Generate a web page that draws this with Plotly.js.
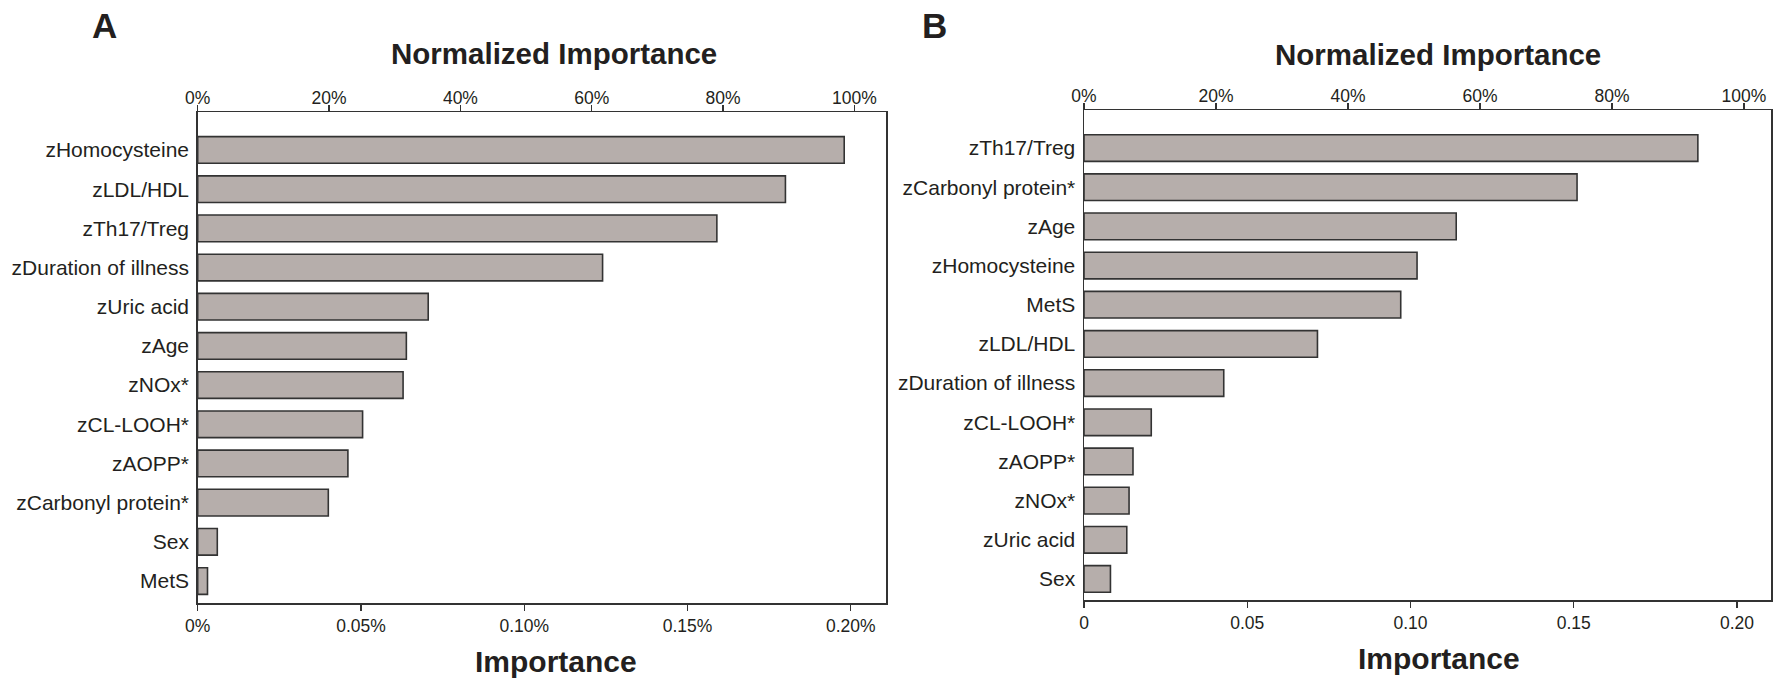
<!DOCTYPE html>
<html>
<head>
<meta charset="utf-8">
<script src="https://cdn.plot.ly/plotly-3.0.1.min.js"></script>
<style>html,body{margin:0;padding:0;background:#fff;}#chart{width:1773px;height:678px;}</style>
</head>
<body>
<div id="chart"></div>
<script>
// Panel A
const catsA = ["zHomocysteine","zLDL/HDL","zTh17/Treg","zDuration of illness","zUric acid","zAge","zNOx*","zCL-LOOH*","zAOPP*","zCarbonyl protein*","Sex","MetS"];
const valsA = [0.198,0.180,0.159,0.124,0.0706,0.0639,0.0629,0.0505,0.046,0.040,0.006,0.003];
const tickValsA = [0,0.05,0.10,0.15,0.20];
const tickTextA = ["0%","0.05%","0.10%","0.15%","0.20%"];
// Panel B
const catsB = ["zTh17/Treg","zCarbonyl protein*","zAge","zHomocysteine","MetS","zLDL/HDL","zDuration of illness","zCL-LOOH*","zAOPP*","zNOx*","zUric acid","Sex"];
const valsB = [0.188,0.151,0.114,0.102,0.097,0.0715,0.0428,0.0206,0.015,0.0138,0.0131,0.0081];
const tickValsB = [0,0.05,0.10,0.15,0.20];
const tickTextB = ["0","0.05","0.10","0.15","0.20"];
// Normalized importance (top) axis ticks
const normTicks = [0,20,40,60,80,100];
const normText = ["0%","20%","40%","60%","80%","100%"];

const FONT = "Liberation Sans, Arial, Helvetica, sans-serif";
const TXT = "#231f20";
const LINE = "#333333";
const barFill = "#b6aeab";

const traces = [
  {type:"bar", orientation:"h", y:catsA, x:valsA, xaxis:"x", yaxis:"y", width:0.68,
   marker:{color:barFill, line:{color:LINE, width:1.6}}, hoverinfo:"x+y", showlegend:false},
  {type:"bar", orientation:"h", y:catsB, x:valsB, xaxis:"x3", yaxis:"y2", width:0.68,
   marker:{color:barFill, line:{color:LINE, width:1.6}}, hoverinfo:"x+y", showlegend:false},
  // invisible carriers so the top (normalized) axes are drawn
  {type:"scatter", mode:"markers", x:[normTicks[0], normTicks[normTicks.length-1]], y:[catsA[0], catsA[0]],
   xaxis:"x2", yaxis:"y", marker:{opacity:0}, hoverinfo:"skip", showlegend:false},
  {type:"scatter", mode:"markers", x:[normTicks[0], normTicks[normTicks.length-1]], y:[catsB[0], catsB[0]],
   xaxis:"x4", yaxis:"y2", marker:{opacity:0}, hoverinfo:"skip", showlegend:false}
];

const xb = {showline:true, linecolor:LINE, linewidth:1.5, ticks:"outside", ticklen:6, tickcolor:LINE, tickwidth:1.3,
  showgrid:false, zeroline:false, tickfont:{family:FONT, size:17.5, color:TXT}, fixedrange:true};

const layout = {
  width:1773, height:678,
  margin:{l:0,r:0,t:0,b:0},
  paper_bgcolor:"#fff", plot_bgcolor:"#fff",
  font:{family:FONT, color:TXT},
  showlegend:false,
  xaxis: Object.assign({}, xb, {domain:[197.7/1773, 886/1773], anchor:"y", range:[0,0.2108],
    tickmode:"array", tickvals:tickValsA, ticktext:tickTextA}),
  xaxis2: Object.assign({}, xb, {domain:[197.7/1773, 886/1773], anchor:"y", overlaying:"x", side:"top", range:[0,104.8],
    tickmode:"array", tickvals:normTicks, ticktext:normText, ticklabelstandoff:-6}),
  yaxis: {domain:[(678-603.3)/678, (678-112.3)/678], anchor:"x", type:"category",
    categoryorder:"array", categoryarray:catsA, range:[11.569,-0.962],
    showline:true, mirror:true, linecolor:LINE, linewidth:1.5, ticks:"", showgrid:false, zeroline:false,
    tickfont:{family:FONT, size:21, color:TXT}, ticklabelstandoff:3, fixedrange:true},
  xaxis3: Object.assign({}, xb, {domain:[1084/1773, 1771/1773], anchor:"y2", range:[0,0.2104],
    tickmode:"array", tickvals:tickValsB, ticktext:tickTextB}),
  xaxis4: Object.assign({}, xb, {domain:[1084/1773, 1771/1773], anchor:"y2", overlaying:"x3", side:"top", range:[0,104.1],
    tickmode:"array", tickvals:normTicks, ticktext:normText, ticklabelstandoff:-6}),
  yaxis2: {domain:[(678-600.3)/678, (678-110)/678], anchor:"x3", type:"category",
    categoryorder:"array", categoryarray:catsB, range:[11.544,-0.97],
    showline:true, mirror:true, linecolor:LINE, linewidth:1.5, ticks:"", showgrid:false, zeroline:false,
    tickfont:{family:FONT, size:21, color:TXT}, ticklabelstandoff:3, fixedrange:true},
  annotations:[
    {text:"<b>A</b>", xref:"paper", yref:"paper", x:104.5/1773, y:1-25.7/678, xanchor:"center", yanchor:"middle", showarrow:false, font:{family:FONT, size:35, color:TXT}},
    {text:"<b>B</b>", xref:"paper", yref:"paper", x:935/1773, y:1-26/678, xanchor:"center", yanchor:"middle", showarrow:false, font:{family:FONT, size:35, color:TXT}},
    {text:"<b>Normalized Importance</b>", xref:"paper", yref:"paper", x:554/1773, y:1-53.7/678, xanchor:"center", yanchor:"middle", showarrow:false, font:{family:FONT, size:29.5, color:TXT}},
    {text:"<b>Normalized Importance</b>", xref:"paper", yref:"paper", x:1438/1773, y:1-54.5/678, xanchor:"center", yanchor:"middle", showarrow:false, font:{family:FONT, size:29.5, color:TXT}},
    {text:"<b>Importance</b>", xref:"paper", yref:"paper", x:555.7/1773, y:1-661/678, xanchor:"center", yanchor:"middle", showarrow:false, font:{family:FONT, size:30, color:TXT}},
    {text:"<b>Importance</b>", xref:"paper", yref:"paper", x:1439/1773, y:1-658/678, xanchor:"center", yanchor:"middle", showarrow:false, font:{family:FONT, size:30, color:TXT}}
  ]
};

Plotly.newPlot("chart", traces, layout, {displayModeBar:false, staticPlot:true});
</script>
</body>
</html>
